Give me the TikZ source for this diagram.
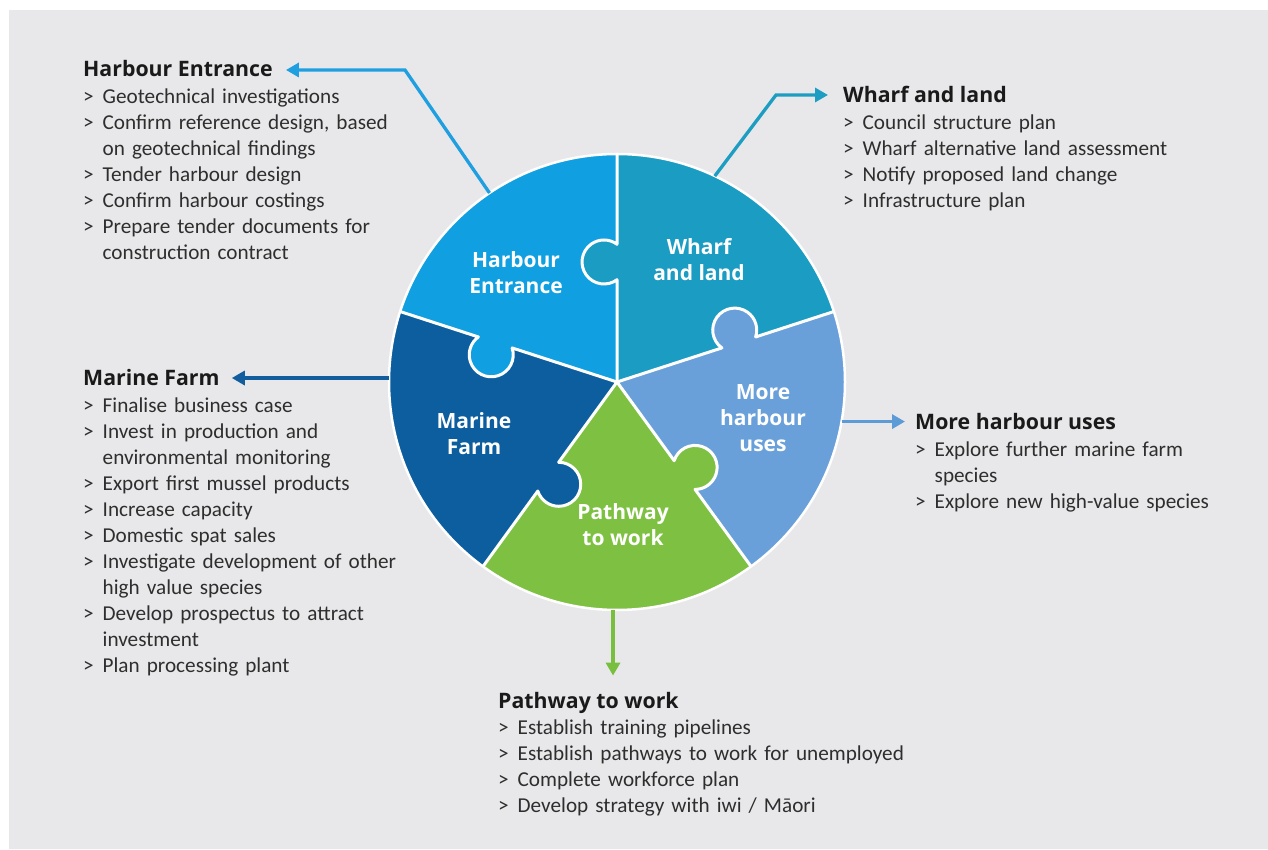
\documentclass[tikz,border=0pt]{standalone}
\usepackage{fontspec}
\setmainfont{Carlito}
\newfontfamily\hfont{Open Sans}
\usetikzlibrary{arrows.meta}
\definecolor{bg}{HTML}{E8E8EA}
\definecolor{txt}{HTML}{2E2E2E}
\definecolor{headc}{HTML}{1A1A1A}
\definecolor{cHE}{HTML}{109FE0}
\definecolor{cWL}{HTML}{1B9CC3}
\definecolor{cMH}{HTML}{6AA0DA}
\definecolor{cPW}{HTML}{7EC142}
\definecolor{cMF}{HTML}{0C5E9F}
\definecolor{aHE}{HTML}{1F9FE0}
\definecolor{aWL}{HTML}{1C9DC1}
\definecolor{aMH}{HTML}{5D9BD6}
\definecolor{aPW}{HTML}{79BF3F}
\definecolor{aMF}{HTML}{115D9D}
\newcommand\myb{\makebox[19.5pt][l]{>}}
\newcommand\myc{\hspace*{19.5pt}}
\def\R{228}
\newcommand\knob[3]{\begin{scope}[shift={(C)},rotate=#1]\fill[#3] (#2,13) circle[radius=22];\end{scope}}
\newcommand\seamline[2]{\begin{scope}[shift={(C)},rotate=#1]\draw[seam] (0,0) -- ({#2-17.75},0) arc[start angle=216.2,end angle=-36.2,radius=22] -- (\R,0);\end{scope}}
\begin{document}
\begin{tikzpicture}[x=1pt,y=1pt,
  body/.style={inner sep=0pt, anchor=base west, text width=#1, align=left, font=\fontsize{21.2}{26}\selectfont, text=txt},
  head/.style={inner sep=0pt, anchor=base west, font=\hfont\bfseries\fontsize{21.3}{26}\selectfont, text=headc},
  plabel/.style={align=center, text=white, font=\hfont\bfseries\fontsize{21}{26}\selectfont, inner sep=0pt},
  arr/.style={line width=3.3pt, -{Triangle[length=13pt,width=14pt]}},
  seam/.style={white, line width=3pt, line join=round}]
\useasboundingbox (0,0) rectangle (1268,849);
\fill[white] (0,0) rectangle (1268,849);
\fill[bg] (9,0) rectangle (1268,839);
\coordinate (C) at (617,467);
% sectors
\fill[cWL] (C) -- ++(18:\R) arc[start angle=18,end angle=90,radius=\R] -- cycle;
\fill[cHE] (C) -- ++(90:\R) arc[start angle=90,end angle=162,radius=\R] -- cycle;
\fill[cMF] (C) -- ++(162:\R) arc[start angle=162,end angle=234,radius=\R] -- cycle;
\fill[cPW] (C) -- ++(234:\R) arc[start angle=234,end angle=306,radius=\R] -- cycle;
\fill[cMH] (C) -- ++(306:\R) arc[start angle=306,end angle=378,radius=\R] -- cycle;
% knobs
\knob{90}{120}{cWL}
\knob{18}{128}{cMH}
\knob{162}{128}{cHE}
\knob{234}{117}{cMF}
\knob{306}{115}{cPW}
% seams
\seamline{90}{120}
\seamline{18}{128}
\seamline{162}{128}
\seamline{234}{117}
\seamline{306}{115}
\draw[white, line width=2.5pt] (C) circle[radius=\R];
% pie labels
\node[plabel] (lHE) at (516,576) {Harbour\\Entrance};
\node[plabel] (lWL) at (699,589) {Wharf\\and land};
\node[plabel] (lMH) at (763,431) {More\\harbour\\uses};
\node[plabel] (lMF) at (474,415) {Marine\\Farm};
\node[plabel] (lPW) at (623,324) {Pathway\\to work};
% text blocks
\node[head] (heHead) at (83,772) {Harbour Entrance};
\node[body=380pt] (heBody) at (83,745.5) {\myb Geotechnical investigations\\
\myb Confirm reference design, based\\
\myc on geotechnical findings\\
\myb Tender harbour design\\
\myb Confirm harbour costings\\
\myb Prepare tender documents for\\
\myc construction contract};
\node[head] (wlHead) at (843,746) {Wharf and land};
\node[body=400pt] (wlBody) at (843,719.5) {\myb Council structure plan\\
\myb Wharf alternative land assessment\\
\myb Notify proposed land change\\
\myb Infrastructure plan};
\node[head] (mhHead) at (915,419) {More harbour uses};
\node[body=340pt] (mhBody) at (915,392.5) {\myb Explore further marine farm\\
\myc species\\
\myb Explore new high-value species};
\node[head] (mfHead) at (83,463) {Marine Farm};
\node[body=380pt] (mfBody) at (83,436.5) {\myb Finalise business case\\
\myb Invest in production and\\
\myc environmental monitoring\\
\myb Export first mussel products\\
\myb Increase capacity\\
\myb Domestic spat sales\\
\myb Investigate development of other\\
\myc high value species\\
\myb Develop prospectus to attract\\
\myc investment\\
\myb Plan processing plant};
\node[head] (pwHead) at (498,141) {Pathway to work};
\node[body=450pt] (pwBody) at (498,114.5) {\myb Establish training pipelines\\
\myb Establish pathways to work for unemployed\\
\myb Complete workforce plan\\
\myb Develop strategy with iwi / Māori};
% connectors
\path (C) ++(124:\R) coordinate (heS);
\coordinate (heB) at (405,779);
\coordinate (heT) at ([xshift=13pt]heHead.east);
\draw[arr, aHE] (heS) -- (heB) -- (heB -| heT);
\path (C) ++(64.6:\R) coordinate (wlS);
\coordinate (wlB) at (776,754);
\coordinate (wlT) at ([xshift=-15pt]wlHead.west);
\draw[arr, aWL] (wlS) -- (wlB) -- (wlB -| wlT);
\path (C) ++(-10:\R) coordinate (mhS);
\coordinate (mhT) at ([xshift=-10pt]mhHead.west);
\draw[arr, aMH] (mhS) -- (mhS -| mhT);
\path (C) ++(179:\R) coordinate (mfS);
\coordinate (mfT) at ([xshift=12pt]mfHead.east);
\draw[arr, aMF] (mfS) -- (mfS -| mfT);
\path (C) ++(269:\R) coordinate (pwS);
\coordinate (pwT) at ([yshift=16pt]pwHead.north);
\draw[arr, aPW] (pwS) -- (pwS |- pwT);
\end{tikzpicture}
\end{document}
